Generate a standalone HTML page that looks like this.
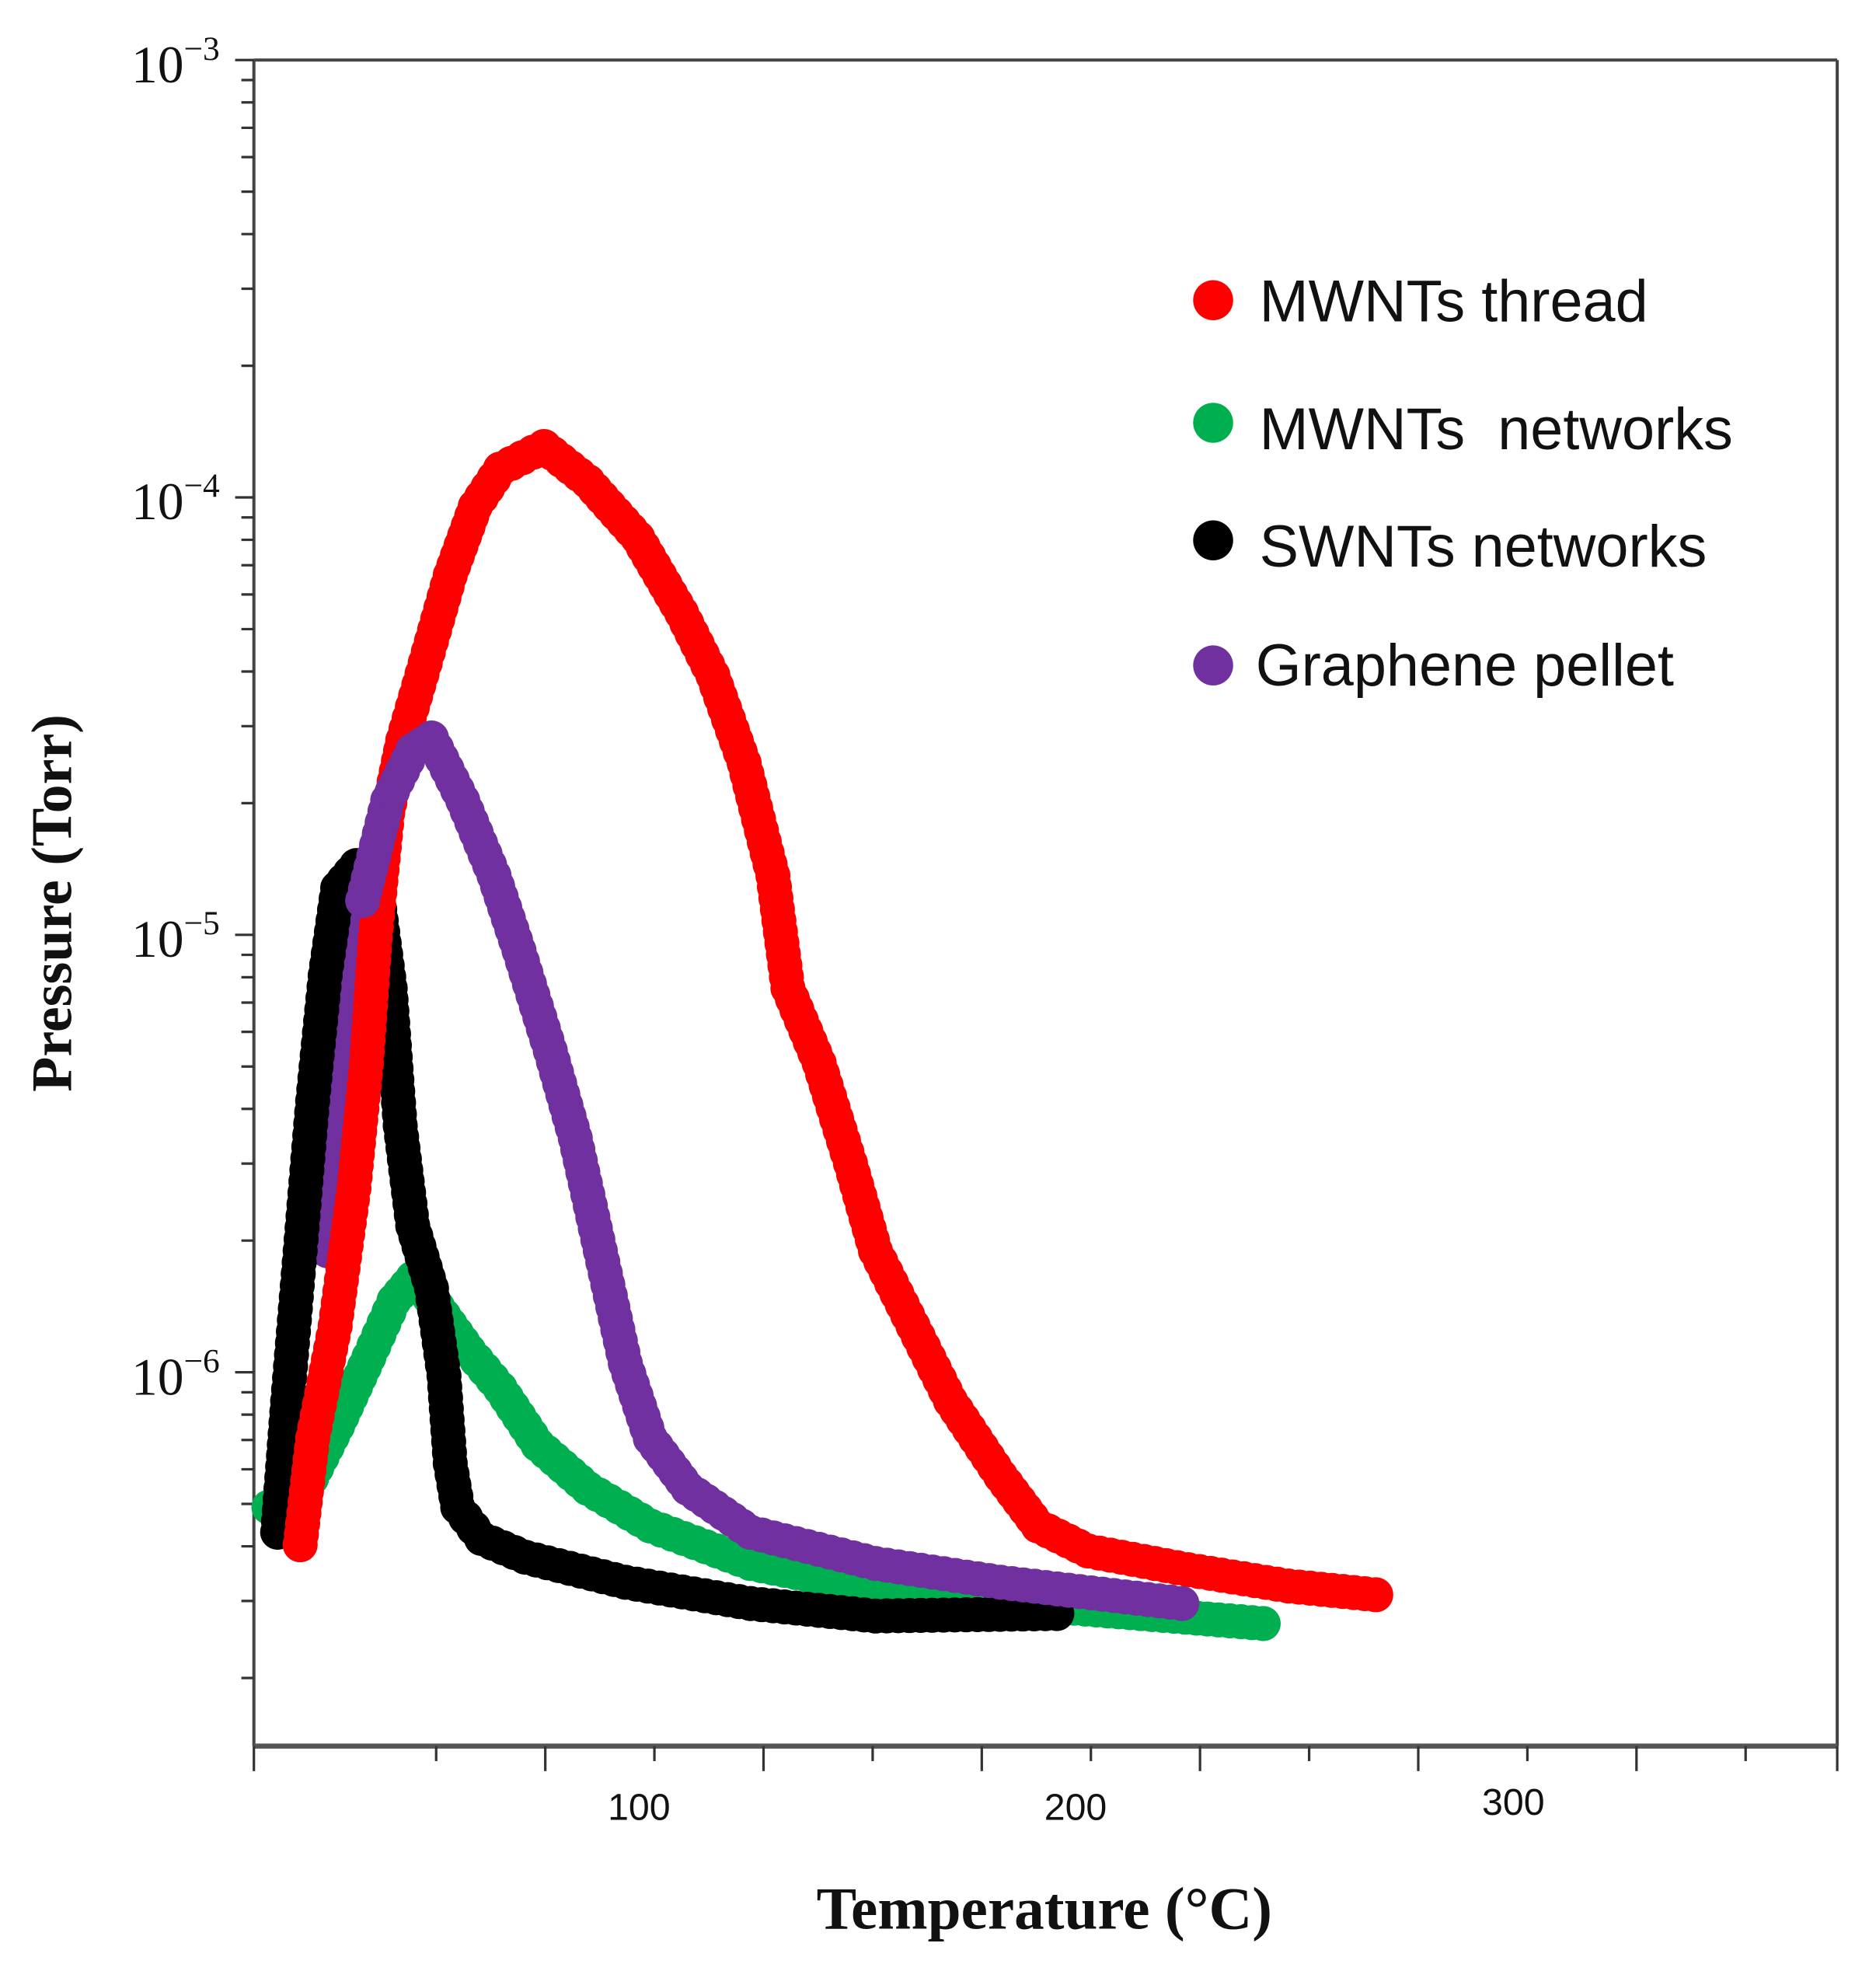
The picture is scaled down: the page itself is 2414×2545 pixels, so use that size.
<!DOCTYPE html>
<html><head><meta charset="utf-8"><style>html,body{margin:0;padding:0;background:#fff}svg{display:block}</style></head>
<body>
<svg id="s" width="2414" height="2545" viewBox="0 0 1500 1581.4" xmlns="http://www.w3.org/2000/svg">
<rect width="1500" height="1582" fill="#fff"/>
<g id="axes" stroke="#444" stroke-width="2.5" fill="none">
<line x1="203" y1="48" x2="1469" y2="48"/>
<line x1="1469" y1="48" x2="1469" y2="1396"/>
<line x1="203" y1="48" x2="203" y2="1396"/>
<line x1="203" y1="1396" x2="1469" y2="1396" stroke-width="4" stroke="#555"/>
</g>
<g id="ticks" stroke="#333" stroke-width="2"></g>
<g font-family="Liberation Serif, serif" font-size="42" fill="#111">
<text x="105" y="66">10<tspan font-size="27" dy="-18">−3</tspan></text>
<text x="105" y="415">10<tspan font-size="27" dy="-18">−4</tspan></text>
<text x="105" y="765">10<tspan font-size="27" dy="-18">−5</tspan></text>
<text x="105" y="1115">10<tspan font-size="27" dy="-18">−6</tspan></text>
</g>
<g font-family="Liberation Sans, sans-serif" font-size="30" fill="#111" text-anchor="middle">
<text x="511" y="1455">100</text>
<text x="860" y="1455">200</text>
<text x="1210" y="1451">300</text>
</g>
<text x="835" y="1542" font-family="Liberation Serif, serif" font-weight="bold" font-size="48" text-anchor="middle" fill="#111">Temperature (°C)</text>
<text transform="translate(57,722) rotate(-90)" font-family="Liberation Serif, serif" font-weight="bold" font-size="46" text-anchor="middle" fill="#111">Pressure (Torr)</text>
<g id="data"></g>
<g font-family="Liberation Sans, sans-serif" font-size="47" fill="#111">
<circle cx="970" cy="240" r="16" fill="#ff0000"/><text x="1007" y="257">MWNTs thread</text>
<circle cx="970" cy="338" r="16" fill="#00b050"/><text x="1007" y="359" xml:space="preserve">MWNTs  networks</text>
<circle cx="970" cy="432" r="16" fill="#000"/><text x="1007" y="453">SWNTs networks</text>
<circle cx="970" cy="532" r="16" fill="#7030a0"/><text x="1004" y="548">Graphene pellet</text>
</g>
</svg>
<script>
var NS="http://www.w3.org/2000/svg";
var t=document.getElementById('ticks');
function ln(x1,y1,x2,y2){var l=document.createElementNS(NS,'line');l.setAttribute('x1',x1);l.setAttribute('y1',y1);l.setAttribute('x2',x2);l.setAttribute('y2',y2);t.appendChild(l);}
for(var d=-3;d>=-7;d--){for(var m=1;m<=9;m++){var val=Math.log10(m)+d; var y=48+(-3-val)*349.7; if(y<48||y>1396)continue; ln(m==1?188:193,y,203,y);}}
for(var T=25;T<=375;T+=25){var x=261.5+T*3.49;if(x<203||x>1470)continue;ln(x,1396,x,(T%50==0)?1416:1408);}
ln(203,1396,203,1416);ln(1469,1396,1469,1416);
var data=document.getElementById('data');
function series(pts,col){var g=document.createElementNS(NS,'g');g.setAttribute('fill',col);
for(var i=0;i<pts.length-1;i++){var a=pts[i],b=pts[i+1];var dl=Math.hypot(b[0]-a[0],b[1]-a[1]);var n=Math.max(1,Math.round(dl/9));
for(var k=0;k<n;k++){var c=document.createElementNS(NS,'circle');c.setAttribute('cx',a[0]+(b[0]-a[0])*k/n);c.setAttribute('cy',a[1]+(b[1]-a[1])*k/n);c.setAttribute('r',14);g.appendChild(c);}}
var l=pts[pts.length-1];var c=document.createElementNS(NS,'circle');c.setAttribute('cx',l[0]);c.setAttribute('cy',l[1]);c.setAttribute('r',14);g.appendChild(c);
data.appendChild(g);}
series([[215,1205],[245,1190],[270,1140],[295,1085],[315,1040],[330,1022],[350,1045],[375,1080],[400,1110],[430,1155],[470,1190],[520,1220],[600,1250],[700,1270],[850,1285],[1010,1298]],'#00b050');
series([[262,1000],[275,850],[290,720]],'#7030a0');
series([[222,1225],[230,1120],[240,1000],[250,880],[260,780],[270,710],[285,692],[300,700],[312,790],[320,900],[330,980],[345,1030],[355,1100],[360,1170],[366,1205],[385,1230],[420,1245],[500,1265],[600,1282],[700,1292],[845,1290]],'#000');
series([[240,1235],[250,1150],[268,1060],[283,950],[293,850],[300,750],[310,650],[322,592],[340,530],[360,460],[380,405],[400,375],[435,357],[470,385],[510,430],[545,490],[570,540],[595,610],[618,700],[630,790],[655,850],[680,930],[700,1000],[730,1060],[760,1120],[800,1180],[830,1220],[870,1240],[950,1255],[1030,1268],[1100,1275]],'#ff0000');
series([[290,720],[310,640],[330,600],[345,590],[370,640],[395,700],[415,760],[440,840],[460,910],[480,1000],[500,1090],[520,1150],[550,1190],[600,1225],[700,1250],[800,1265],[945,1282]],'#7030a0');
</script>
</body></html>
